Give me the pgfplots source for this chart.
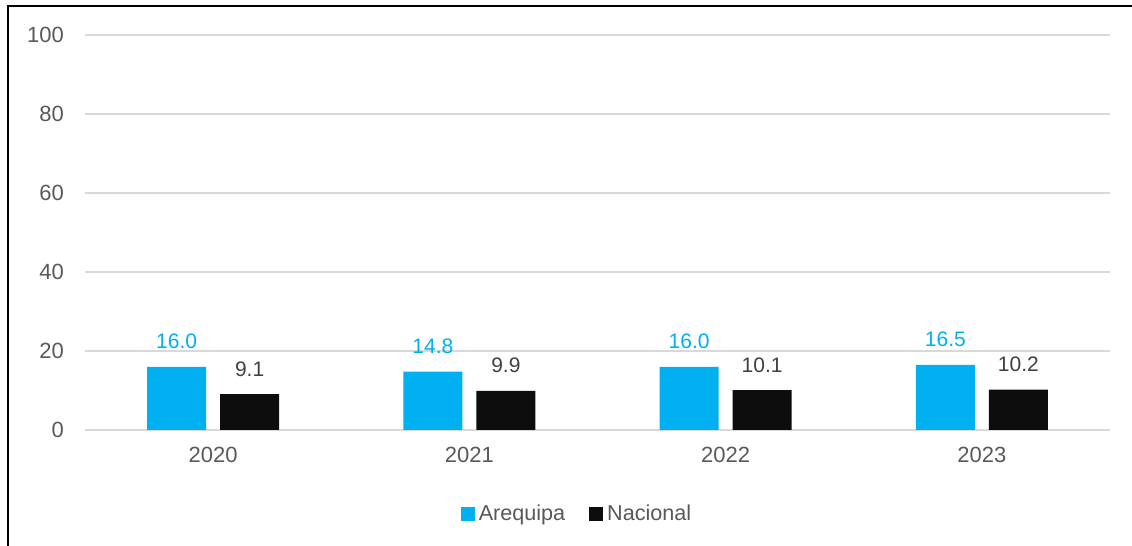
\documentclass[border=0pt]{standalone}
\usepackage{fontspec}
\setmainfont{Liberation Sans}
\usepackage{pgfplots}
\pgfplotsset{compat=1.18}
\definecolor{arqblue}{HTML}{00B0F0}
\definecolor{nacblack}{HTML}{0D0D0D}
\definecolor{gridgray}{HTML}{D9D9D9}
\definecolor{labgray}{HTML}{595959}
\definecolor{valgray}{HTML}{404040}

\begin{document}
\begin{tikzpicture}
\path[use as bounding box] (0,0) rectangle (566pt,273pt);
\draw[line width=1pt,black] (4pt,0) -- (4pt,270pt) -- (566pt,270pt);
\begin{axis}[
  at={(42.5pt,58pt)},
  anchor=south west,
  scale only axis,
  width=512.5pt,
  height=197.5pt,
  ybar=7pt,
  bar width=29.5pt,
  xmin=-0.5, xmax=3.5,
  ymin=0, ymax=100,
  xtick=data,
  xticklabels={2020,2021,2022,2023},
  ytick={0,20,40,60,80,100},
  axis line style={draw=none},
  tick style={draw=none},
  ymajorgrids=true,
  grid style={gridgray,line width=0.75pt},
  major tick length=0pt,
  /pgf/number format/assume math mode=true,
  tick label style={font=\fontsize{11}{13}\selectfont,text=labgray},
  xticklabel style={yshift=-5pt},
  yticklabel style={xshift=-7pt},
  nodes near coords,
  nodes near coords style={font=\fontsize{10.5}{12}\selectfont,anchor=base,inner sep=0pt,yshift=9pt,
    /pgf/number format/fixed,/pgf/number format/fixed zerofill,/pgf/number format/precision=1},
  legend style={at={(0.481,-0.213)},anchor=center,draw=none,legend columns=2,
    font=\fontsize{10.8}{12}\selectfont,text=labgray,
    /tikz/every even column/.append style={column sep=10pt}},
  legend image code/.code={\fill[#1] (0pt,-3.5pt) rectangle (7pt,3.5pt);},
]
\addplot[fill=arqblue,draw=none,nodes near coords style={text=arqblue}]
  coordinates {(0,16.0) (1,14.8) (2,16.0) (3,16.5)};
\addplot[fill=nacblack,draw=none,nodes near coords style={text=valgray}]
  coordinates {(0,9.1) (1,9.9) (2,10.1) (3,10.2)};
\legend{Arequipa,Nacional}
\end{axis}
\end{tikzpicture}
\end{document}
